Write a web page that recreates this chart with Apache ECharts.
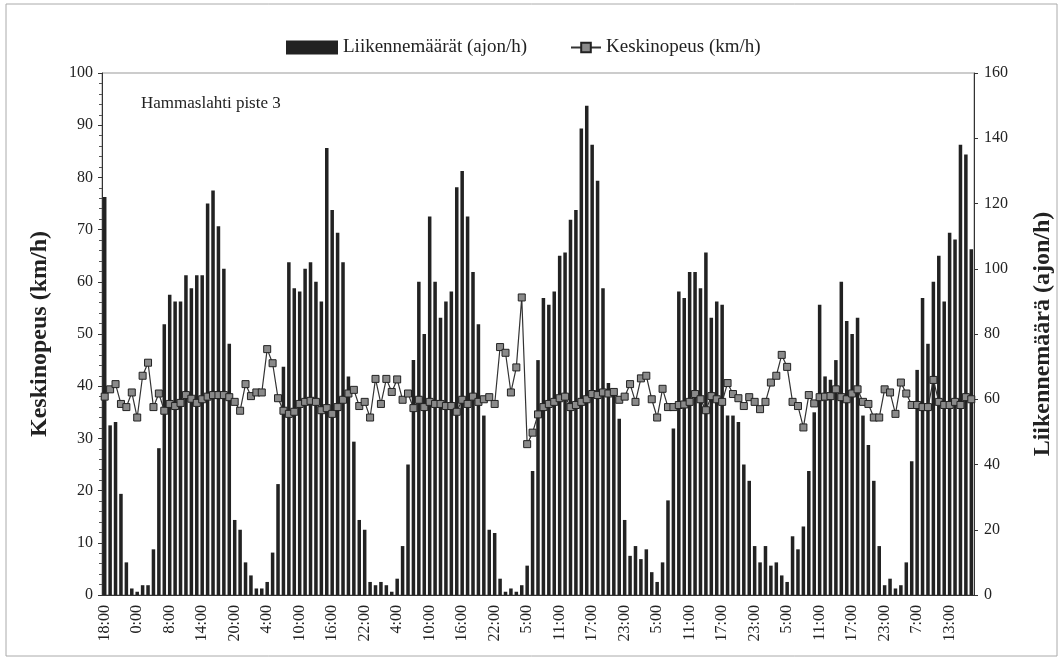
<!DOCTYPE html>
<html>
<head>
<meta charset="utf-8">
<script src="https://cdn.jsdelivr.net/npm/echarts@6/dist/echarts.min.js"></script>
<style>
  html, body { margin: 0; padding: 0; background: #fff; }
  #chart { width: 1063px; height: 661px; }
</style>
</head>
<body>
<div id="chart"></div>
<script>
// x-akselin nimiöt, joka kuudes havainto
const tickLabels = ['18:00', '0:00', '8:00', '14:00', '20:00', '4:00', '10:00', '16:00', '22:00',
  '4:00', '10:00', '16:00', '22:00', '5:00', '11:00', '17:00', '23:00', '5:00', '11:00', '17:00',
  '23:00', '5:00', '11:00', '17:00', '23:00', '7:00', '13:00'];

// liikennemäärät (ajon/h)
const traffic = [
  122, 52, 53, 31, 10, 2, 1, 3, 3, 14, 45, 83, 92, 90, 90, 98, 94, 98, 98, 120,
  124, 113, 100, 77, 23, 20, 10, 6, 2, 2, 4, 13, 34, 70, 102, 94, 93, 100, 102, 96,
  90, 137, 118, 111, 102, 67, 47, 23, 20, 4, 3, 4, 3, 1, 5, 15, 40, 72, 96, 80,
  116, 96, 85, 90, 93, 125, 130, 116, 99, 83, 55, 20, 19, 5, 1, 2, 1, 3, 9, 38,
  72, 91, 89, 93, 104, 105, 115, 118, 143, 150, 138, 127, 94, 65, 63, 54, 23, 12, 15, 11,
  14, 7, 4, 10, 29, 51, 93, 91, 99, 99, 94, 105, 85, 90, 89, 55, 55, 53, 40, 35,
  15, 10, 15, 9, 10, 6, 4, 18, 14, 21, 38, 56, 89, 67, 66, 72, 96, 84, 80, 85,
  55, 46, 35, 15, 3, 5, 2, 3, 10, 41, 69, 91, 77, 96, 104, 90, 111, 109, 138, 135,
  106
];

// keskinopeus (km/h)
const speed = [
  38.0, 39.4, 40.4, 36.6, 36.0, 38.8, 34.0, 42.0, 44.5, 36.0, 38.6, 35.3, 36.6, 36.2, 36.8, 38.3, 37.6, 36.8, 37.5, 38.0,
  38.3, 38.3, 38.3, 37.9, 37.0, 35.3, 40.4, 38.1, 38.8, 38.8, 47.1, 44.4, 37.7, 35.3, 34.7, 35.1, 36.6, 37.0, 37.2, 37.0,
  35.4, 35.8, 34.7, 36.0, 37.4, 38.6, 39.3, 36.2, 37.0, 34.0, 41.4, 36.6, 41.4, 38.9, 41.3, 37.4, 38.6, 35.8, 37.4, 36.0,
  37.0, 36.6, 36.6, 36.2, 36.2, 35.1, 37.4, 36.6, 38.0, 37.0, 37.5, 37.9, 36.6, 47.5, 46.4, 38.8, 43.6, 57.0, 28.9, 31.1,
  34.6, 36.0, 36.6, 37.0, 37.7, 38.0, 36.0, 36.4, 37.0, 37.5, 38.5, 38.3, 38.8, 38.6, 38.9, 37.4, 38.0, 40.4, 37.0, 41.5,
  42.0, 37.5, 34.0, 39.5, 36.0, 36.0, 36.4, 36.5, 37.0, 38.5, 37.5, 35.4, 38.1, 37.5, 37.0, 40.6, 38.5, 37.7, 36.2, 37.9,
  37.0, 35.6, 37.0, 40.7, 42.0, 46.0, 43.7, 37.0, 36.2, 32.1, 38.3, 36.7, 37.9, 38.0, 38.1, 39.4, 37.9, 37.5, 38.6, 39.4,
  37.0, 36.6, 34.0, 34.0, 39.4, 38.8, 34.7, 40.7, 38.6, 36.4, 36.4, 36.0, 36.0, 41.2, 37.0, 36.4, 36.4, 37.0, 36.4, 37.9,
  37.5
];

const categories = traffic.map((v, i) => String(i));
const serif = '"Liberation Serif", "Times New Roman", serif';

let chart = echarts.init(document.getElementById('chart'));

let option = {
  backgroundColor: '#fff',
  animation: false,
  textStyle: { fontFamily: serif, color: '#222' },
  graphic: [
    {
      type: 'rect',
      shape: { x: 6, y: 4, width: 1051, height: 652 },
      style: { fill: 'none', stroke: '#aaa', lineWidth: 1 }
    },
    {
      type: 'text',
      left: 141,
      top: 95,
      style: { text: 'Hammaslahti piste 3', font: '17px ' + serif, fill: '#222' }
    }
  ],
  legend: [
    {
      data: [{ name: 'Liikennemäärät (ajon/h)', icon: 'rect' }],
      left: 281,
      top: 33,
      itemWidth: 52,
      itemHeight: 14,
      itemGap: 4,
      textStyle: { fontFamily: serif, fontSize: 19, color: '#222' }
    },
    {
      data: ['Keskinopeus (km/h)'],
      left: 565,
      top: 33,
      itemWidth: 30,
      itemHeight: 12,
      textStyle: { fontFamily: serif, fontSize: 19, color: '#222' }
    }
  ],
  grid: {
    left: 102,
    right: 87,
    top: 73,
    bottom: 66,
    show: true,
    borderColor: '#999',
    borderWidth: 1
  },
  xAxis: {
    type: 'category',
    data: categories,
    axisLine: { lineStyle: { color: '#333' } },
    axisTick: { interval: 0, length: 3, lineStyle: { color: '#555' } },
    axisLabel: {
      interval: 5,
      rotate: 90,
      margin: 10,
      fontFamily: serif,
      fontSize: 16,
      color: '#222',
      formatter: (v, i) => tickLabels[i / 6] || ''
    }
  },
  yAxis: [
    {
      type: 'value',
      min: 0,
      max: 100,
      interval: 10,
      name: 'Keskinopeus (km/h)',
      nameLocation: 'middle',
      nameGap: 50,
      nameTextStyle: { fontFamily: serif, fontSize: 24, fontWeight: 'bold', color: '#222' },
      axisLine: { show: true, lineStyle: { color: '#333' } },
      axisTick: { show: true, length: 4, lineStyle: { color: '#333' } },
      minorTick: { show: true, splitNumber: 5, length: 3, lineStyle: { color: '#555' } },
      axisLabel: { fontFamily: serif, fontSize: 16, color: '#222', margin: 9 },
      splitLine: { show: false }
    },
    {
      type: 'value',
      min: 0,
      max: 160,
      interval: 20,
      name: 'Liikennemäärä (ajon/h)',
      nameLocation: 'middle',
      nameGap: 57,
      nameRotate: 90,
      nameTextStyle: { fontFamily: serif, fontSize: 24, fontWeight: 'bold', color: '#222' },
      axisLine: { show: true, lineStyle: { color: '#333' } },
      axisTick: { show: true, length: 4, lineStyle: { color: '#333' } },
      axisLabel: { fontFamily: serif, fontSize: 16, color: '#222', margin: 10 },
      splitLine: { show: false }
    }
  ],
  series: [
    {
      name: 'Liikennemäärät (ajon/h)',
      type: 'bar',
      yAxisIndex: 1,
      data: traffic,
      barCategoryGap: '35%',
      itemStyle: { color: '#222' },
      z: 2
    },
    {
      name: 'Keskinopeus (km/h)',
      type: 'line',
      yAxisIndex: 0,
      data: speed,
      symbol: 'rect',
      symbolSize: 7,
      showAllSymbol: true,
      lineStyle: { color: '#333', width: 1.2 },
      itemStyle: { color: '#8a8a8a', borderColor: '#222', borderWidth: 1 },
      z: 3
    }
  ]
};

chart.setOption(option);
</script>
</body>
</html>
